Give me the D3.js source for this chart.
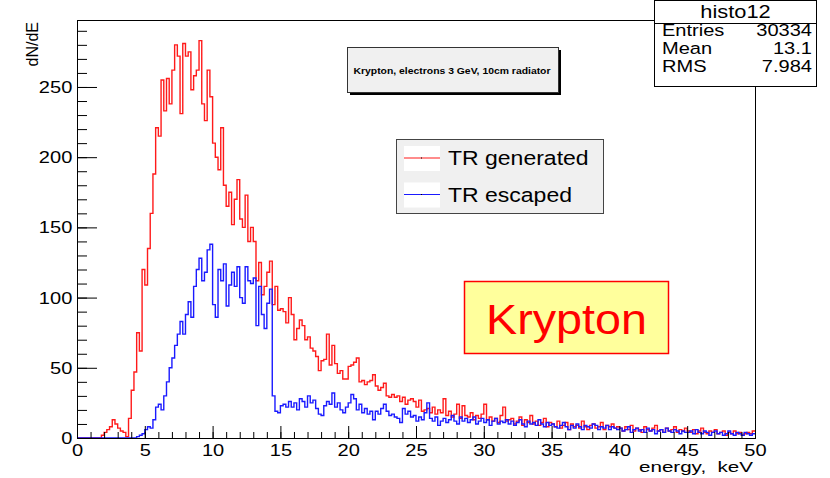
<!DOCTYPE html>
<html>
<head>
<meta charset="utf-8">
<script src="https://cdn.jsdelivr.net/npm/d3@7"></script>
<style>
  body { margin: 0; background: #fff; }
  svg { display: block; font-family: "Liberation Sans", Arial, Helvetica, sans-serif; }
</style>
</head>
<body>
<div id="chart"></div>
<script>
// histogram bins, 0.2 keV wide, 0..50 keV
const binWidth = 0.2;

const generated = [
  0,0,0,0,0,0,0,0,0,
  2,4,6,8,13,10,7,5,4,1,14,
  34,47,75,62,120,109,135,160,188,221,
  215,255,233,256,238,262,280,272,231,281,
  272,275,248,258,262,283,238,226,262,243,
  210,200,191,221,180,165,175,152,170,184,
  156,150,173,140,150,140,112,125,102,108,
  118,126,95,108,91,92,90,82,100,88,
  70,78,84,80,70,72,64,62,58,48,
  55,56,74,52,66,53,46,48,42,42,
  51,52,54,57,40,41,38,40,41,45,
  37,34,36,39,30,29,31,29,30,26,
  29,24,27,28,26,22,27,19,20,21,
  18,22,17,20,18,28,16,19,15,17,
  24,14,23,16,15,18,13,16,14,17,
  24,13,15,12,14,11,16,22,12,13,
  14,10,12,15,9,13,11,16,10,12,9,11,14,8,11,
  10,8,12,7,9,11,6,10,8,9,7,12,8,6,9,10,7,8,11,6,9,8,10,7,8,
  7,5,8,6,9,5,7,6,4,8,6,5,7,9,5,6,4,7,5,6,8,4,6,5,7,
  5,4,6,3,5,7,4,3,5,4,6,3,4,5,2,4,3,5,3,4,2,3,4,3,5
];

const escaped = [
  0,0,0,0,0,0,0,0,0,0,0,0,0,0,0,0,0,0,0,0,0,0,
  1,2,3,6,8,7,13,22,
  24,20,30,40,50,57,66,74,83,74,
  88,97,86,108,120,128,112,118,134,138,
  95,86,120,112,124,94,109,118,108,122,
  100,96,122,112,110,114,80,108,88,78,
  96,106,30,19,18,23,24,22,26,22,
  25,20,28,26,22,30,25,27,21,17,
  16,23,26,24,32,22,25,20,18,22,
  25,31,28,20,24,18,21,17,19,13,
  19,17,21,24,19,16,17,15,14,11,
  21,17,19,15,16,12,15,13,18,25,
  14,12,15,9,12,
  14,11,13,16,12,10,15,12,14,11,13,15,10,12,14,11,13,9,12,14,10,12,11,13,10,
  12,9,11,13,10,8,12,10,11,9,13,10,8,11,9,
  10,8,7,9,11,8,6,9,7,10,8,6,9,8,7,10,9,6,8,7,9,6,8,7,6,
  7,5,6,8,4,6,7,5,6,4,7,5,6,3,5,6,4,7,5,4,6,5,3,5,4,
  4,5,3,6,4,3,5,4,2,4,5,3,4,2,3,5,3,2,4,3,2,4,3,2,3
];

const xTicks = [0, 5, 10, 15, 20, 25, 30, 35, 40, 45, 50];
const yTicks = [0, 50, 100, 150, 200, 250];
const legendLabels = ["TR generated", "TR escaped"];
const statsTitle = "histo12";
const statsRows = [["Entries", "30334"], ["Mean", "13.1"], ["RMS", "7.984"]];
const noteText = "Krypton, electrons 3 GeV, 10cm radiator";
const gasLabel = "Krypton";

const width = 830, height = 478;
const SX = 1.18; // the picture is a bit wider than tall
const red = "#ff1a1a", blue = "#1a1aff";

const svg = d3.select("#chart").append("svg")
  .attr("width", width)
  .attr("height", height);

const x = d3.scaleLinear().domain([0, 50]).range([77, 755]);
const y = d3.scaleLinear().domain([0, 297.7]).range([438, 20]);

function text(parent, px, py, str, size, anchor) {
  return parent.append("text")
    .attr("transform", `translate(${px},${py}) scale(${SX},1)`)
    .attr("font-size", size)
    .attr("text-anchor", anchor || "start")
    .text(str);
}

// step histograms
function steps(vals) {
  const pts = vals.map((v, i) => [i * binWidth, v]);
  pts.push([vals.length * binWidth, vals[vals.length - 1]]);
  return pts;
}
const line = d3.line()
  .x(d => x(d[0]))
  .y(d => y(d[1]))
  .curve(d3.curveStepAfter);

svg.append("path")
  .attr("d", line(steps(generated)))
  .attr("fill", "none")
  .attr("stroke", red)
  .attr("stroke-width", 1.4);

svg.append("path")
  .attr("d", line(steps(escaped)))
  .attr("fill", "none")
  .attr("stroke", blue)
  .attr("stroke-width", 1.4);

// axes (ticks inside the frame)
const clean = g => {
  g.select(".domain").remove();
  g.attr("font-family", null).attr("font-size", null);
  g.selectAll("line").attr("stroke", "#000");
};

svg.append("g")
  .attr("transform", "translate(0,438)")
  .call(d3.axisBottom(x).tickValues(d3.range(0, 51)).tickSize(-6).tickFormat(""))
  .call(clean);

svg.append("g")
  .attr("transform", "translate(0,438)")
  .call(d3.axisBottom(x).tickValues(xTicks).tickSize(-12).tickPadding(6).tickFormat(d3.format("d")))
  .call(clean)
  .call(g => g.selectAll("text")
    .attr("font-size", 17)
    .attr("fill", "#000")
    .attr("transform", `scale(${SX},1)`));

svg.append("g")
  .attr("transform", "translate(77,0)")
  .call(d3.axisLeft(y).tickValues(d3.range(0, 291, 10)).tickSize(-10).tickFormat(""))
  .call(clean);

svg.append("g")
  .attr("transform", "translate(77,0)")
  .call(d3.axisLeft(y).tickValues(yTicks).tickSize(-20).tickPadding(4).tickFormat(d3.format("d")))
  .call(clean)
  .call(g => g.selectAll("text")
    .attr("font-size", 17)
    .attr("fill", "#000")
    .attr("transform", `scale(${SX},1)`));

// frame
svg.append("rect")
  .attr("x", 77.5).attr("y", 20.5)
  .attr("width", 678).attr("height", 418)
  .attr("fill", "none")
  .attr("stroke", "#000");

// axis titles
svg.append("text")
  .attr("transform", "translate(38,22) rotate(-90)")
  .attr("font-size", 16)
  .attr("text-anchor", "end")
  .text("dN/dE");

svg.append("text")
  .attr("x", 753).attr("y", 472)
  .attr("font-size", 15)
  .attr("text-anchor", "end")
  .attr("textLength", 114)
  .attr("lengthAdjust", "spacingAndGlyphs")
  .style("white-space", "pre")
  .text("energy,  keV");

// note box with shadow
svg.append("rect")
  .attr("x", 350).attr("y", 50).attr("width", 211).attr("height", 45)
  .attr("fill", "#000");
svg.append("rect")
  .attr("x", 347.5).attr("y", 47.5).attr("width", 211).attr("height", 45)
  .attr("fill", "#f0f0f0").attr("stroke", "#333");
svg.append("text")
  .attr("x", 452).attr("y", 74)
  .attr("font-size", 9.5)
  .attr("font-weight", "bold")
  .attr("text-anchor", "middle")
  .attr("textLength", 197)
  .attr("lengthAdjust", "spacingAndGlyphs")
  .text(noteText);

// legend
const legend = svg.append("g");
legend.append("rect")
  .attr("x", 396.5).attr("y", 139.5).attr("width", 207).attr("height", 74)
  .attr("fill", "#f0f0f0").attr("stroke", "#444");
[red, blue].forEach((c, i) => {
  const cy = 158 + i * 36.5;
  legend.append("rect")
    .attr("x", 404).attr("y", cy - 12).attr("width", 36).attr("height", 25)
    .attr("fill", "#fff");
  legend.append("line")
    .attr("x1", 404).attr("x2", 440).attr("y1", cy).attr("y2", cy)
    .attr("stroke", c).attr("stroke-width", 1.2);
  legend.append("rect")
    .attr("x", 421).attr("y", cy - 0.5).attr("width", 1).attr("height", 1)
    .attr("fill", "#000");
  text(legend, 448, cy + 7, legendLabels[i], 19.5);
});

// gas label
svg.append("rect")
  .attr("x", 464.5).attr("y", 281.5).attr("width", 204).attr("height", 72)
  .attr("fill", "#ffff9c").attr("stroke", "#ff0000").attr("stroke-width", 1.5);
svg.append("text")
  .attr("x", 486).attr("y", 334)
  .attr("font-size", 42)
  .attr("fill", "#ff0000")
  .attr("textLength", 161)
  .attr("lengthAdjust", "spacingAndGlyphs")
  .text(gasLabel);

// stats box
const stats = svg.append("g");
stats.append("rect")
  .attr("x", 654.5).attr("y", 0.5).attr("width", 162).attr("height", 86)
  .attr("fill", "#fff").attr("stroke", "#000");
stats.append("line")
  .attr("x1", 654.5).attr("x2", 816.5).attr("y1", 23.5).attr("y2", 23.5)
  .attr("stroke", "#000");
text(stats, 735.5, 18, statsTitle, 18.5, "middle");
statsRows.forEach((r, i) => {
  const by = 36 + i * 18.2;
  text(stats, 662, by, r[0], 17);
  text(stats, 812, by, r[1], 17, "end");
});
</script>
</body>
</html>
